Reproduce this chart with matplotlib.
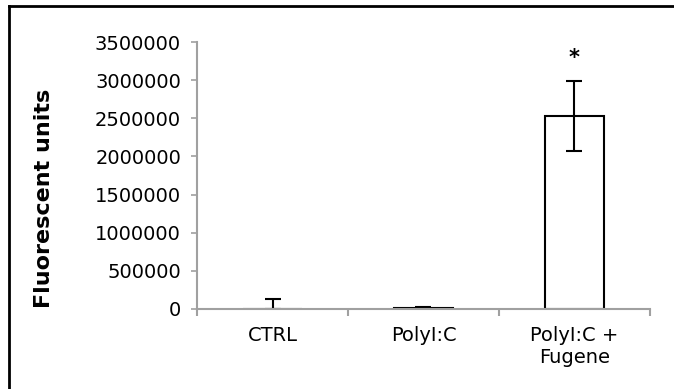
import matplotlib
matplotlib.use("Agg")
import matplotlib.pyplot as plt
import matplotlib.lines as mlines

categories = ["CTRL", "PolyI:C", "PolyI:C +\nFugene"]
means = [0, 15000, 2530000]
errors = [130000, 8000, 465000]
ytick_vals = [0, 500000, 1000000, 1500000, 2000000, 2500000, 3000000, 3500000]

plt.rcParams['font.family'] = ['DejaVu Sans']

fig = plt.figure(figsize=(6.74, 3.89), dpi=100)
ax = fig.add_axes([197 / 674, 1 - 309 / 389, 453 / 674, 267 / 389])

x = list(range(len(categories)))
ax.bar(x, means, width=0.39, color="white", edgecolor="black", linewidth=1.5)
# error bars only upward for CTRL / PolyI:C (they sit at zero), both ways for the last
ax.errorbar(x, means, yerr=[[0, 0, errors[2]], errors], fmt="none",
            ecolor="black", elinewidth=1.5, capsize=6, capthick=1.5)

ax.text(2, 3290000, "*", ha="center", va="center", fontsize=15, fontweight="bold")

ax.set_xlim(-0.5, 2.5)
ax.set_ylim(0, 3500000)
ax.set_yticks(ytick_vals)
ax.set_yticklabels([str(v) for v in ytick_vals], fontsize=14)
ax.set_xticks(x)
ax.set_xticklabels(categories, fontsize=14, linespacing=1.25)
ax.tick_params(axis="x", length=0, pad=12)
ax.tick_params(axis="y", length=4.5, width=1.2, color="#a0a0a0", pad=7)

# boundary ticks between categories like Excel
ax.set_xticks([-0.5, 0.5, 1.5, 2.5], minor=True)
ax.tick_params(axis="x", which="minor", length=5, color="#a0a0a0", width=1.5)

for s in ["top", "right"]:
    ax.spines[s].set_visible(False)
for s in ["left", "bottom"]:
    ax.spines[s].set_color("#a0a0a0")
    ax.spines[s].set_linewidth(1.5)
ax.spines["left"].set_zorder(0)

ax.set_ylabel("Fluorescent units", fontsize=16, fontweight="bold")
ax.yaxis.set_label_coords(54 / 674, 1 - 198 / 389, transform=fig.transFigure)

# partial outer frame (top and left edges)
fig.add_artist(mlines.Line2D([9 / 674, 1], [1 - 6 / 389, 1 - 6 / 389],
                             transform=fig.transFigure, color="black", linewidth=2))
fig.add_artist(mlines.Line2D([9 / 674, 9 / 674], [0, 1 - 6 / 389],
                             transform=fig.transFigure, color="black", linewidth=2))

fig.savefig("out.png", dpi=100)
